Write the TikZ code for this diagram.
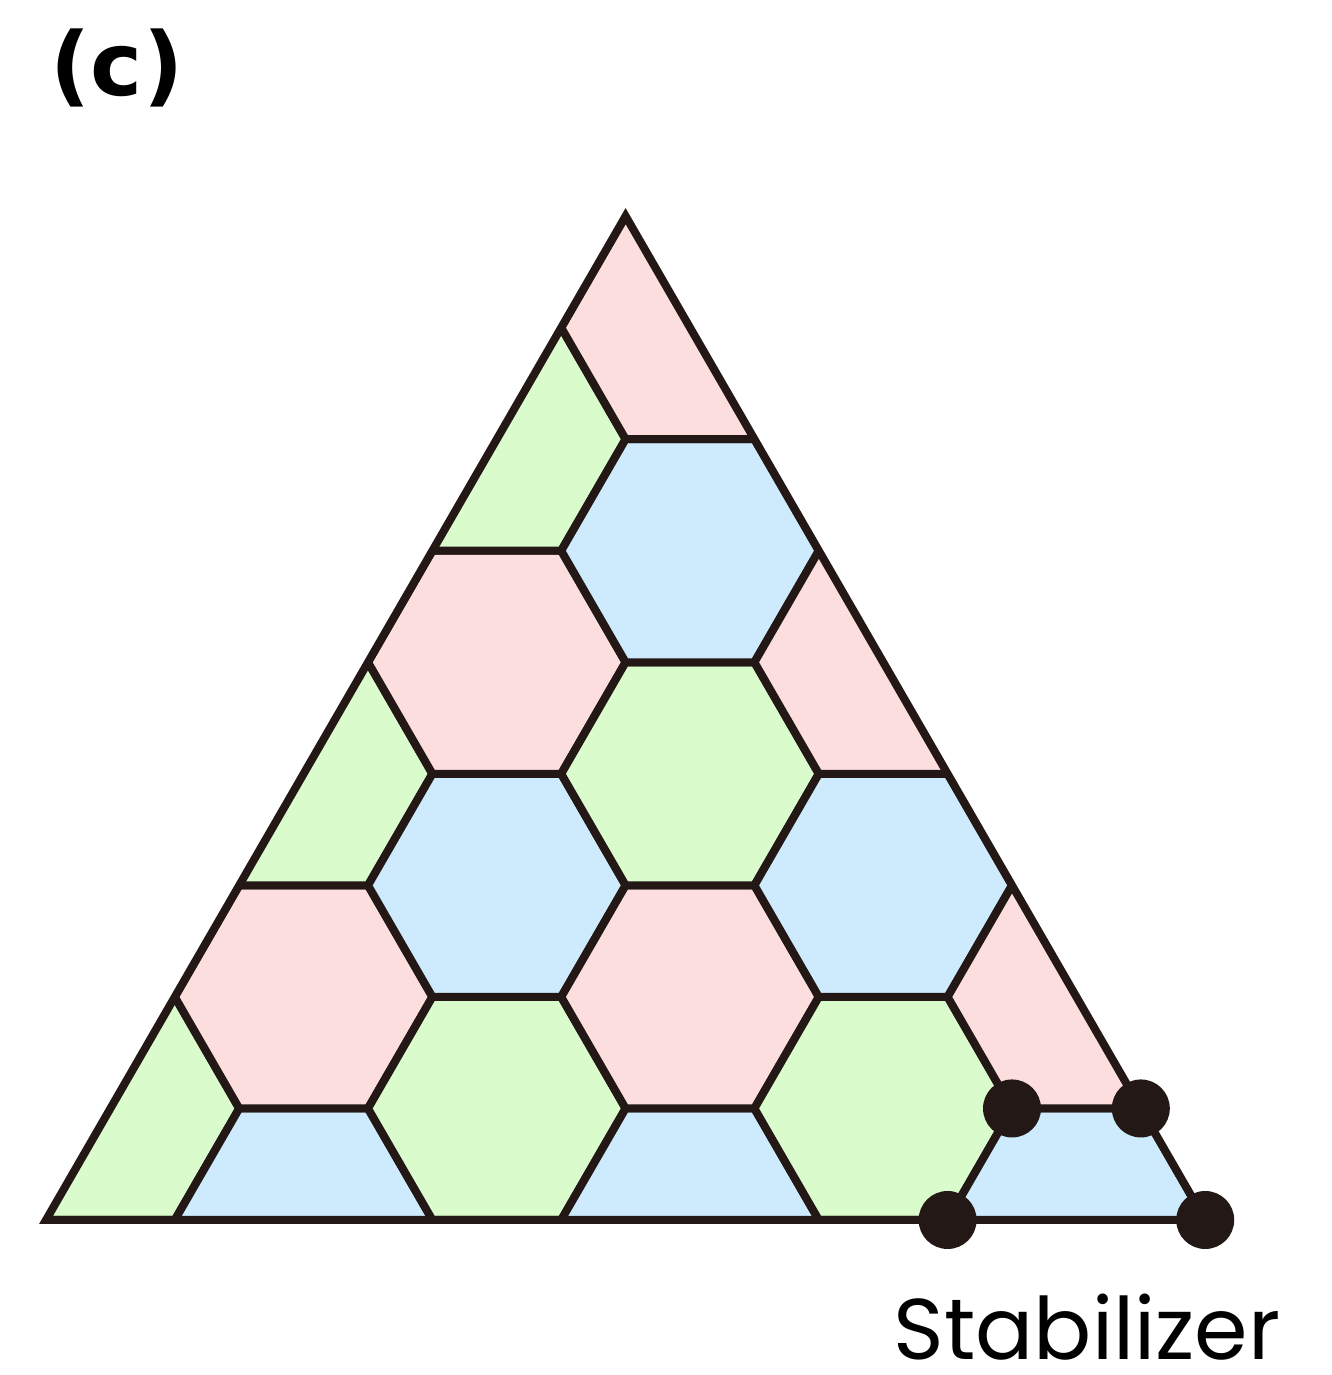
\documentclass[tikz,border=0pt]{standalone}
\usepackage{fontspec}
\newfontfamily\labfont{Poppins}
\newfontfamily\tagfont{DejaVu Sans}
\definecolor{cpink}{HTML}{FDDEDE}
\definecolor{cgreen}{HTML}{DAFBCB}
\definecolor{cblue}{HTML}{CDEBFC}
\definecolor{cline}{HTML}{231815}
\begin{document}
\begin{tikzpicture}[
  edge/.style={draw=cline, line width=0.08cm, line join=miter},
  dot/.style={circle, fill=cline, inner sep=0pt, minimum size=0.58cm},
  hexcell/.style={edge}
]
\useasboundingbox (0,0) rectangle (13.32,13.75);
\pgfmathsetmacro{\h}{sqrt(3)/2}
\begin{scope}[shift={(0.46,1.55)}, x=1.288cm, y=1.288cm]
  \coordinate (A) at (0,0);
  \coordinate (B) at (9,0);
  \coordinate (C) at (4.5,9*\h);
  \begin{scope}
    \clip (A) -- (B) -- (C) -- cycle;
    \foreach \cx/\cj/\col in {
      0.5/1/cgreen,
      2/0/cblue, 2/2/cpink, 2/4/cgreen,
      3.5/1/cgreen, 3.5/3/cblue, 3.5/5/cpink, 3.5/7/cgreen,
      5/0/cblue, 5/2/cpink, 5/4/cgreen, 5/6/cblue, 5/8/cpink,
      6.5/1/cgreen, 6.5/3/cblue, 6.5/5/cpink,
      8/0/cblue, 8/2/cpink}{
      \filldraw[hexcell, fill=\col] (\cx+1,\cj*\h) -- ++(120:1) -- ++(180:1) -- ++(240:1) -- ++(300:1) -- ++(0:1) -- cycle;
    }
  \end{scope}
  \draw[edge] (A) -- (B) -- (C) -- cycle;
  \node[dot] (d1) at (7.5,\h) {};
  \node[dot] (d2) at (8.5,\h) {};
  \node[dot] (d3) at (7,0) {};
  \node[dot] (d4) at (9,0) {};
\end{scope}
\node[anchor=base, inner sep=0pt, font=\labfont\fontsize{24.5}{28}\selectfont] (lab) at (10.87,0.15) {Stabilizer};
\node[inner sep=0pt, font=\tagfont\bfseries\fontsize{25}{30}\selectfont] (tag) at (1.17,13.07) {(c)};
\end{tikzpicture}
\end{document}
